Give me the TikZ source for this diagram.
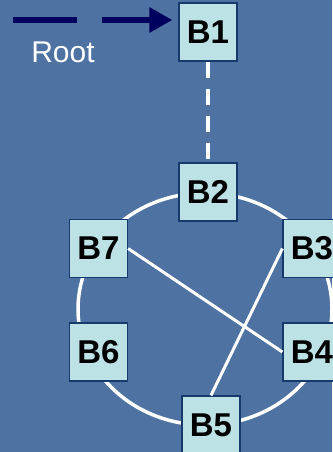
\documentclass[tikz,border=0pt]{standalone}
\usepackage{fontspec}
\setmainfont{Liberation Sans}
\usetikzlibrary{arrows.meta,positioning,calc}
\definecolor{bgblue}{HTML}{4E72A1}
\definecolor{navy}{HTML}{00005E}
\definecolor{boxfill}{HTML}{BCE2E6}
\definecolor{boxline}{HTML}{163A6B}
\tikzset{
  >=Stealth,
  blk/.style={draw=boxline,line width=1.2pt,fill=boxfill,minimum size=58pt,inner sep=0pt,font=\fontsize{33}{33}\selectfont\bfseries},
  ring/.style={draw=white,line width=3.5pt},
  link/.style={draw=white,line width=3pt}
}

\begin{document}
\begin{tikzpicture}[x=1pt,y=-1pt]
\fill[bgblue](0,0)rectangle(332,452);
\useasboundingbox(0,0)rectangle(332,452);
% ring first, blocks on top
\draw[ring](205,309)ellipse[x radius=127pt,y radius=116pt];
\node[blk](b1)at(208,32){B1};
\node[blk](b2)at(208,192){B2};
\node[blk](b3)at(312,248.5){B3};
\node[blk](b4)at(312,352){B4};
\node[blk](b5)at(211,425){B5};
\node[blk](b6)at(98.5,352){B6};
\node[blk](b7)at(98.5,248.5){B7};
\draw[white,line width=4pt,dash pattern=on 16pt off 11pt](b1)--(b2);
\draw[link](b7.east)--(b4.west);
\draw[link](b3.west)--(b5.north);
% root pointer
\coordinate(rootstart)at(13,20);
\draw[navy,line width=6pt,dash pattern=on 64pt off 25pt,-{Triangle[length=23pt,width=24pt]},shorten >=6pt](rootstart)--(rootstart-|b1.west);
\node[white,inner sep=0pt,font=\fontsize{30}{30}\selectfont](root)at(63,52.5){Root};
\end{tikzpicture}
\end{document}
